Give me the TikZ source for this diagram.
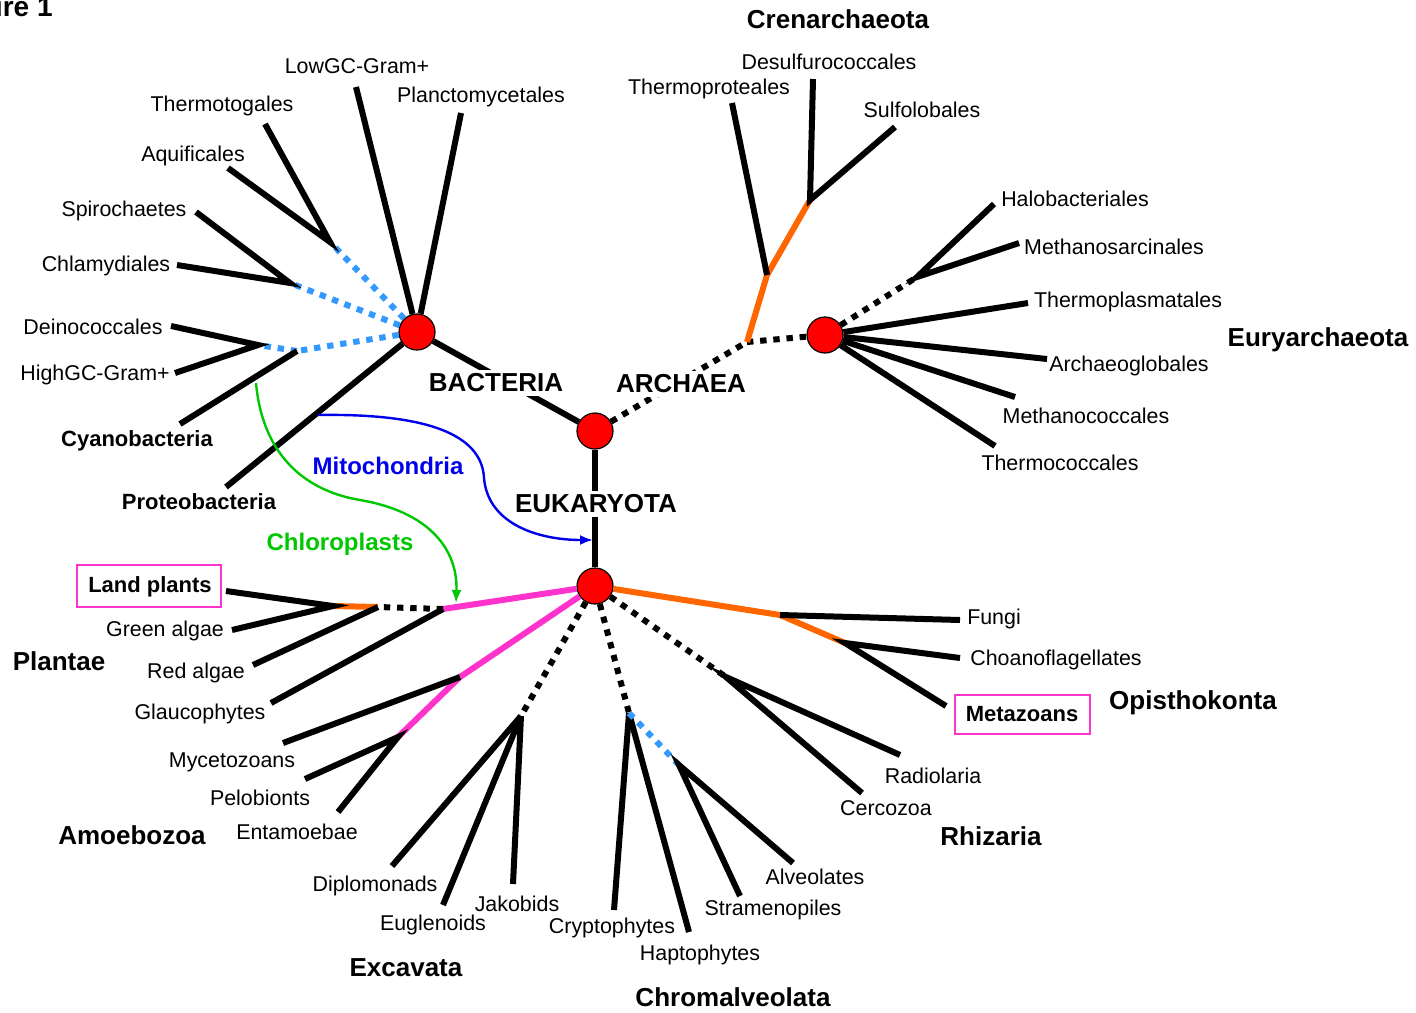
\documentclass[tikz,border=0pt]{standalone}
\usepackage{fontspec}
\setmainfont{Liberation Sans}
\usetikzlibrary{arrows.meta}
\definecolor{orng}{RGB}{255,102,0}
\definecolor{pnk}{RGB}{255,51,204}
\definecolor{lblue}{RGB}{51,153,255}
\definecolor{grn}{RGB}{0,200,0}
\definecolor{blu}{RGB}{0,0,235}
\begin{document}
\begin{tikzpicture}[x=0.5pt,y=-0.5pt,
  br/.style={line width=3pt},
  dotb/.style={line width=3pt, dash pattern=on 3.2pt off 3.4pt},
  dotl/.style={line width=3pt, lblue, dash pattern=on 3.2pt off 3.4pt},
  org/.style={line width=3pt, orng},
  pk/.style={line width=3pt, pnk},
  hub/.style={circle, fill=red, draw=black, line width=0.6pt, minimum size=18pt, inner sep=0pt},
  lab/.style={font=\fontsize{10.7}{12}\selectfont, inner sep=1pt},
  grp/.style={font=\fontsize{13}{15}\selectfont\bfseries, inner sep=1pt},
  sgrp/.style={font=\fontsize{11}{13}\selectfont\bfseries, inner sep=1pt},
  dom/.style={font=\fontsize{13}{15}\selectfont\bfseries, fill=white, inner sep=2pt},
  xfer/.style={line width=1.2pt, -{Latex[length=6.5pt,width=5pt]}},
  boxed/.style={draw=pnk, line width=1pt, inner sep=0pt}
]
\useasboundingbox (0,0) rectangle (1416,1012);

% hubs
\node[hub] (nB) at (417,332) {};
\node[hub] (nR) at (595,431) {};
\node[hub] (nE) at (825,335) {};
\node[hub] (nK) at (595,586) {};

% ---------------- Bacteria ----------------
\coordinate (bTA) at (330,242);
\coordinate (bSC) at (290,283);
\coordinate (bDH) at (258,345);
\coordinate (bCy) at (297,351);
\coordinate (bProtJ) at (318,415);
\coordinate (lThermotog) at (265,124);
\coordinate (lAquif) at (228,168);
\coordinate (lSpiro) at (196,212);
\coordinate (lChlam) at (177,265);
\coordinate (lDeino) at (171,326);
\coordinate (lHighGC) at (175,373);
\coordinate (lCyano) at (180,424);
\coordinate (lProteo) at (226,487);
\coordinate (lLowGC) at (356,87);
\coordinate (lPlancto) at (461,113);

\draw[br] (nB) -- (lLowGC);
\draw[br] (nB) -- (lPlancto);
\draw[br] (nB) -- (lProteo);
\draw[dotl] (nB) -- (bTA);
\draw[dotl] (nB) -- (bSC);
\draw[dotl] (nB) -- (bCy);
\draw[dotl] (bCy) -- (bDH);
\draw[br] (lThermotog) -- (bTA) -- (lAquif);
\draw[br] (lSpiro) -- (bSC) -- (lChlam);
\draw[br] (lDeino) -- (bDH) -- (lHighGC);
\draw[br] (bCy) -- (lCyano);

\node[lab] (tThermotog) at (222,106) {Thermotogales};
\node[lab] (tAquif) at (193,156) {Aquificales};
\node[lab] (tSpiro) at (124,211) {Spirochaetes};
\node[lab] (tChlam) at (106,266) {Chlamydiales};
\node[lab] (tDeino) at (93,327) {Deinococcales};
\node[lab] (tHighGC) at (95,375) {HighGC-Gram+};
\node[lab] (tLowGC) at (357,66) {LowGC-Gram+};
\node[lab] (tPlancto) at (481,97) {Planctomycetales};
\node[sgrp] (tCyano) at (137,441) {Cyanobacteria};
\node[sgrp] (tProteo) at (199,502) {Proteobacteria};

% ---------------- Archaea ----------------
\coordinate (aJ) at (747,342);
\coordinate (aT) at (767,275);
\coordinate (aDS) at (810,200);
\coordinate (lThermoprot) at (732,103);
\coordinate (lDesulf) at (813,79);
\coordinate (lSulfo) at (895,127);
\coordinate (eHM) at (917,277);
\coordinate (lHalo) at (994,204);
\coordinate (lMsarc) at (1019,243);
\coordinate (lTplasma) at (1028,303);
\coordinate (lArchaeo) at (1047,359);
\coordinate (lMcocc) at (1015,397);
\coordinate (lTcocc) at (995,446);

\draw[dotb] (aJ) -- (nE);
\draw[org] (aJ) -- (aT) -- (aDS);
\draw[br] (aT) -- (lThermoprot);
\draw[br] (lDesulf) -- (aDS) -- (lSulfo);
\draw[dotb] (nE) -- (eHM);
\draw[br] (lHalo) -- (eHM) -- (lMsarc);
\draw[br] (nE) -- (lTplasma);
\draw[br] (nE) -- (lArchaeo);
\draw[br] (nE) -- (lMcocc);
\draw[br] (nE) -- (lTcocc);

\node[grp] (tCren) at (838,19) {Crenarchaeota};
\node[lab] (tThermoprot) at (709,89) {Thermoproteales};
\node[lab] (tDesulf) at (829,62) {Desulfurococcales};
\node[lab] (tSulfo) at (922,110) {Sulfolobales};
\node[lab] (tHalo) at (1075,199) {Halobacteriales};
\node[lab] (tMsarc) at (1114,247) {Methanosarcinales};
\node[lab] (tTplasma) at (1128,302) {Thermoplasmatales};
\node[lab] (tArchaeo) at (1129,366) {Archaeoglobales};
\node[lab] (tMcocc) at (1086,416) {Methanococcales};
\node[lab] (tTcocc) at (1060,463) {Thermococcales};
\node[grp] (tEury) at (1318,340) {Euryarchaeota};

% ---------------- Eukaryota ----------------
\coordinate (pJ1) at (443,609);
\coordinate (pJ2) at (378,607);
\coordinate (pJ3) at (333,606);
\coordinate (lLand) at (226,591);
\coordinate (lGreen) at (232,630);
\coordinate (lRed) at (253,665);
\coordinate (lGlauc) at (271,703);
\coordinate (mJ1) at (460,677);
\coordinate (mJ2) at (398,737);
\coordinate (lMyc) at (283,743);
\coordinate (lPelo) at (305,779);
\coordinate (lEnta) at (338,812);
\coordinate (xJ) at (521,716);
\coordinate (lDiplo) at (392,866);
\coordinate (lEugl) at (443,905);
\coordinate (lJako) at (513,884);
\coordinate (cJ1) at (629,713);
\coordinate (cJ2) at (679,765);
\coordinate (lCrypto) at (614,910);
\coordinate (lHapto) at (689,932);
\coordinate (lStram) at (740,896);
\coordinate (lAlveo) at (793,863);
\coordinate (rJ) at (726,677);
\coordinate (lRadio) at (900,755);
\coordinate (lCerco) at (862,793);
\coordinate (oJ1) at (780,615);
\coordinate (oJ2) at (845,643);
\coordinate (lFungi) at (960,620);
\coordinate (lChoano) at (960,658);
\coordinate (lMeta) at (946,706);

% Plantae
\draw[pk] (nK) -- (pJ1);
\draw[dotb] (pJ1) -- (pJ2);
\draw[org] (pJ2) -- (pJ3);
\draw[br] (lLand) -- (pJ3) -- (lGreen);
\draw[br] (pJ2) -- (lRed);
\draw[br] (pJ1) -- (lGlauc);
% Amoebozoa
\draw[pk] (nK) -- (mJ1) -- (mJ2);
\draw[br] (mJ1) -- (lMyc);
\draw[br] (lPelo) -- (mJ2) -- (lEnta);
% Excavata
\draw[dotb] (nK) -- (xJ);
\draw[br] (xJ) -- (lDiplo);
\draw[br] (xJ) -- (lEugl);
\draw[br] (xJ) -- (lJako);
% Chromalveolata
\draw[dotb] (nK) -- (cJ1);
\draw[br] (cJ1) -- (lCrypto);
\draw[br] (cJ1) -- (lHapto);
\draw[dotl] (cJ1) -- (cJ2);
\draw[br] (lStram) -- (cJ2) -- (lAlveo);
% Rhizaria
\draw[dotb] (nK) -- (rJ);
\draw[br] (lRadio) -- (rJ) -- (lCerco);
% Opisthokonta
\draw[org] (nK) -- (oJ1) -- (oJ2);
\draw[br] (oJ1) -- (lFungi);
\draw[br] (lChoano) -- (oJ2) -- (lMeta);

\node[boxed, minimum width=72pt, minimum height=21pt] (bxLand) at (149,586) {};
\node[sgrp] (tLand) at (150,587) {Land plants};
\node[lab] (tGreen) at (165,631) {Green algae};
\node[grp] (tPlantae) at (59,661) {Plantae};
\node[lab] (tRed) at (196,673) {Red algae};
\node[lab] (tGlauc) at (200,714) {Glaucophytes};
\node[lab] (tMyc) at (232,762) {Mycetozoans};
\node[lab] (tPelo) at (260,798) {Pelobionts};
\node[lab] (tEnta) at (297,832) {Entamoebae};
\node[grp] (tAmoe) at (132,835) {Amoebozoa};
\node[lab] (tDiplo) at (375,886) {Diplomonads};
\node[lab] (tEugl) at (433,925) {Euglenoids};
\node[lab] (tJako) at (517,904) {Jakobids};
\node[grp] (tExca) at (406,968) {Excavata};
\node[lab] (tCrypto) at (612,928) {Cryptophytes};
\node[lab] (tHapto) at (700,955) {Haptophytes};
\node[lab] (tStram) at (773,910) {Stramenopiles};
\node[lab] (tAlveo) at (815,877) {Alveolates};
\node[grp] (tChrom) at (733,997) {Chromalveolata};
\node[lab] (tRadio) at (933,776) {Radiolaria};
\node[lab] (tCerco) at (886,808) {Cercozoa};
\node[grp] (tRhiz) at (991,836) {Rhizaria};
\node[lab] (tFungi) at (994,619) {Fungi};
\node[lab] (tChoano) at (1056,660) {Choanoflagellates};
\node[boxed, minimum width=67.5pt, minimum height=19.5pt] (bxMeta) at (1022,714) {};
\node[sgrp] (tMeta) at (1022,714) {Metazoans};
\node[grp] (tOpis) at (1193,703) {Opisthokonta};

% ---------------- domain trunk ----------------
\draw[br] (nB) -- (nR);
\draw[dotb] (nR) -- (aJ);
\draw[br] (nR) -- (nK);
\coordinate (mitoEnd) at (593,540);
\coordinate (chloStart) at (256,383);
\coordinate (chloEnd) at (456,603);
\draw[xfer, blu] (bProtJ) .. controls (440,413) and (482,440) .. (484,478)
   .. controls (488,525) and (540,540) .. (mitoEnd);
\draw[xfer, grn] (chloStart) .. controls (262,450) and (300,490) .. (360,500)
   .. controls (430,512) and (458,550) .. (chloEnd);

\node[dom] (tBact) at (496,383) {BACTERIA};
\node[dom] (tArch) at (681,384) {ARCHAEA};
\node[dom] (tEuk) at (596,504) {EUKARYOTA};
\node[font=\fontsize{12}{14}\selectfont\bfseries, text=blu, inner sep=1pt] (tMito) at (388,466) {Mitochondria};
\node[font=\fontsize{12}{14}\selectfont\bfseries, text=grn, inner sep=1pt] (tChlo) at (340,544) {Chloroplasts};

\node[anchor=base east, font=\fontsize{14}{16}\selectfont\bfseries, inner sep=0pt] (tFig) at (53,17) {Figure 1};
\end{tikzpicture}
\end{document}
